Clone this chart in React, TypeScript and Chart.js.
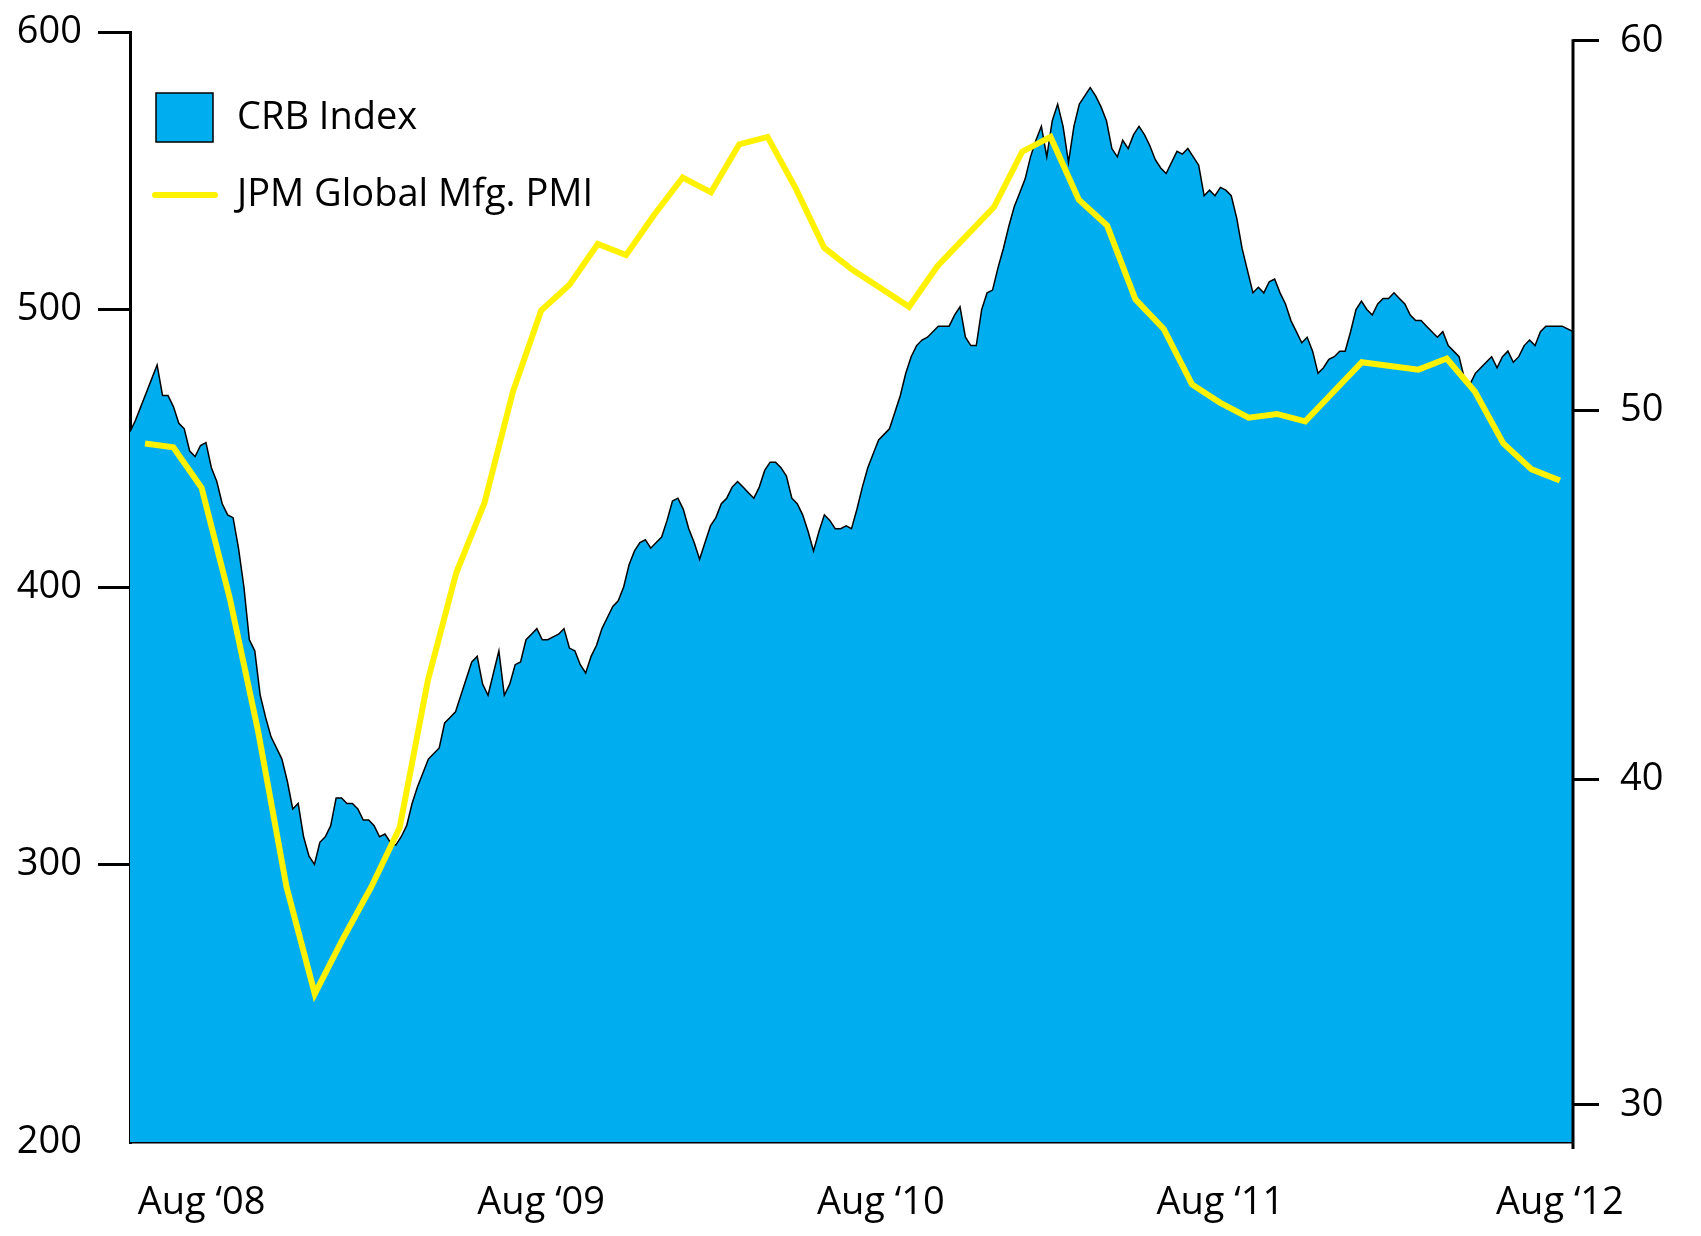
import React, { useEffect, useRef } from "react";
import { Chart, registerables } from "chart.js";

Chart.register(...registerables);

// ---- x axis (months counted from Aug 2008) ----
const X_TICK_MONTHS = [0, 12, 24, 36, 48];
const X_TICK_LABELS = ["Aug \u201808", "Aug \u201809", "Aug \u201810", "Aug \u201811", "Aug \u201812"];

// ---- left axis (CRB Index) ----
const LEFT_MIN = 200;
const LEFT_MAX = 600;
const LEFT_TICKS = [200, 300, 400, 500, 600];

// ---- right axis (PMI) ----
const RIGHT_MIN = 30.19;
const RIGHT_MAX = 60.24;
const RIGHT_TICK_VALUES = [31.2, 40, 50, 60];
const RIGHT_TICK_LABELS = ["30", "40", "50", "60"];

// ---- JPM Global Manufacturing PMI, monthly Jun 2008 .. Aug 2012 ----
const PMI_START_MONTH = -2;
const PMI_VALUES = [
  49.1, 49.0, 47.9, 44.9, 41.3, 37.1, 34.2, 35.7, 37.1, 38.7,
  42.7, 45.6, 47.5, 50.5, 52.7, 53.4, 54.5, 54.2, 55.3, 56.3,
  55.9, 57.2, 57.4, 56.0, 54.4, 53.8, 53.3, 52.8, 53.9, 54.7,
  55.5, 57.0, 57.4, 55.7, 55.0, 53.0, 52.2, 50.7, 50.2, 49.8,
  49.9, 49.7, 50.5, 51.3, 51.2, 51.1, 51.4, 50.5, 49.1, 48.4,
  48.1,
];

// ---- CRB Index, sampled about every 5.8 days from mid-May 2008 ----
const CRB_START_MONTH = -2.53;
const CRB_STEP_MONTHS = 0.1917;
const CRB_VALUES = [
  456, 460, 465, 470, 475, 480, 469, 469, 465, 459,
  457, 449, 447, 451, 452, 443, 438, 430, 426, 425,
  414, 400, 381, 377, 361, 353, 346, 342, 338, 330,
  320, 322, 310, 303, 300, 308, 310, 314, 324, 324,
  322, 322, 320, 316, 316, 314, 310, 311, 308, 307,
  310, 314, 322, 328, 333, 338, 340, 342, 351, 353,
  355, 361, 367, 373, 375, 365, 361, 369, 377, 361,
  365, 372, 373, 381, 383, 385, 381, 381, 382, 383,
  385, 378, 377, 372, 369, 375, 379, 385, 389, 393,
  395, 400, 408, 413, 416, 417, 414, 416, 418, 424,
  431, 432, 428, 421, 416, 410, 416, 422, 425, 430,
  432, 436, 438, 436, 434, 432, 436, 442, 445, 445,
  443, 440, 432, 430, 426, 420, 413, 420, 426, 424,
  421, 421, 422, 421, 428, 436, 443, 448, 453, 455,
  457, 463, 469, 477, 483, 487, 489, 490, 492, 494,
  494, 494, 498, 501, 490, 487, 487, 500, 506, 507,
  515, 522, 530, 537, 542, 547, 555, 561, 566, 555,
  568, 574, 566, 553, 566, 574, 577, 580, 577, 573,
  568, 558, 555, 561, 558, 563, 566, 563, 559, 554,
  551, 549, 553, 557, 556, 558, 555, 552, 541, 543,
  541, 544, 543, 541, 533, 522, 514, 506, 508, 506,
  510, 511, 506, 502, 496, 492, 488, 490, 485, 477,
  479, 482, 483, 485, 485, 492, 500, 503, 500, 498,
  502, 504, 504, 506, 504, 502, 498, 496, 496, 494,
  492, 490, 492, 487, 485, 483, 475, 473, 477, 479,
  481, 483, 479, 483, 485, 481, 483, 487, 489, 487,
  492, 494, 494, 494, 494, 493, 492,
];

const CRB_LABEL = "CRB Index";
const PMI_LABEL = "JPM Global Mfg. PMI";
const CRB_COLOR = "#00AEEF";
const PMI_COLOR = "#FFF200";
const FONT_FAMILY = "'Open Sans', 'Noto Sans', sans-serif";

const overlayPlugin = {
  id: "overlay",
  afterDraw(chart: any) {
    const { ctx, chartArea } = chart;
    const y1 = chart.scales.y1;
    ctx.save();
    // right axis spine
    ctx.strokeStyle = "#000";
    ctx.lineWidth = 3;
    ctx.beginPath();
    const topY = y1.getPixelForValue(60) - 1.5;
    ctx.moveTo(chartArea.right, topY);
    ctx.lineTo(chartArea.right, chartArea.bottom + 7);
    ctx.stroke();

    // legend
    const lx = chartArea.left + 26;
    const ly = chartArea.top + 61;
    ctx.fillStyle = CRB_COLOR;
    ctx.fillRect(lx, ly, 57, 49);
    ctx.strokeStyle = "#000";
    ctx.lineWidth = 1.5;
    ctx.strokeRect(lx, ly, 57, 49);

    ctx.strokeStyle = PMI_COLOR;
    ctx.lineWidth = 6;
    ctx.lineCap = "round";
    ctx.beginPath();
    ctx.moveTo(lx - 1, ly + 102);
    ctx.lineTo(lx + 59, ly + 102);
    ctx.stroke();

    ctx.fillStyle = "#000";
    ctx.font = `38px ${FONT_FAMILY}`;
    ctx.textAlign = "left";
    ctx.textBaseline = "middle";
    ctx.fillText(CRB_LABEL, lx + 81, ly + 25);
    ctx.fillText(PMI_LABEL, lx + 81, ly + 102);
    ctx.restore();
  },
};

export default function App() {
  const canvasRef = useRef<HTMLCanvasElement | null>(null);

  useEffect(() => {
    if (!canvasRef.current) return;
    const crbData = CRB_VALUES.map((v, i) => ({ x: CRB_START_MONTH + i * CRB_STEP_MONTHS, y: v }));
    const pmiData = PMI_VALUES.map((v, i) => ({ x: PMI_START_MONTH + i, y: v }));
    const xMax = CRB_START_MONTH + (CRB_VALUES.length - 1) * CRB_STEP_MONTHS;
    const font = { family: FONT_FAMILY, size: 38 };

    const chart = new Chart(canvasRef.current, {
      type: "line",
      data: {
        datasets: [
          {
            label: PMI_LABEL,
            data: pmiData,
            yAxisID: "y1",
            borderColor: PMI_COLOR,
            borderWidth: 6,
            pointRadius: 0,
            fill: false,
            tension: 0,
            borderJoinStyle: "miter",
            order: 0,
          },
          {
            label: CRB_LABEL,
            data: crbData,
            yAxisID: "y",
            borderColor: "#000",
            borderWidth: 1.5,
            backgroundColor: CRB_COLOR,
            pointRadius: 0,
            fill: "start",
            tension: 0,
            order: 1,
          },
        ],
      },
      options: {
        animation: false,
        responsive: true,
        maintainAspectRatio: false,
        layout: { padding: { top: 32, left: 0, right: 0, bottom: 0 } },
        plugins: { legend: { display: false }, tooltip: { enabled: false } },
        scales: {
          x: {
            type: "linear",
            min: CRB_START_MONTH,
            max: xMax,
            afterBuildTicks: (s: any) => {
              s.ticks = X_TICK_MONTHS.map((v) => ({ value: v }));
            },
            afterFit: (s: any) => {
              s.height = 94;
              s.paddingLeft = 0;
              s.paddingRight = 0;
            },
            ticks: {
              autoSkip: false,
              maxRotation: 0,
              color: "#000",
              font,
              padding: 38,
              callback: (v: any) => {
                const i = X_TICK_MONTHS.indexOf(Number(v));
                return i >= 0 ? X_TICK_LABELS[i] : "";
              },
            },
            grid: { display: true, drawOnChartArea: false, drawTicks: false, color: "rgba(0,0,0,0)" },
            border: { display: true, color: "#000", width: 2.5 },
          },
          y: {
            type: "linear",
            position: "left",
            min: LEFT_MIN,
            max: LEFT_MAX,
            afterBuildTicks: (s: any) => {
              s.ticks = LEFT_TICKS.map((v) => ({ value: v }));
            },
            afterFit: (s: any) => {
              s.width = 130;
              s.paddingTop = 0;
              s.paddingBottom = 0;
            },
            ticks: { color: "#000", font, padding: 16, callback: (v: any) => String(v) },
            grid: {
              drawOnChartArea: false,
              drawTicks: true,
              tickLength: 32,
              lineWidth: 3,
              color: (c: any) => (c.tick && c.tick.value === LEFT_MIN ? "rgba(0,0,0,0)" : "#000"),
            },
            border: { display: true, color: "#000", width: 3 },
          },
          y1: {
            type: "linear",
            position: "right",
            min: RIGHT_MIN,
            max: RIGHT_MAX,
            afterBuildTicks: (s: any) => {
              s.ticks = RIGHT_TICK_VALUES.map((v) => ({ value: v }));
            },
            afterFit: (s: any) => {
              s.width = 128;
              s.paddingTop = 0;
              s.paddingBottom = 0;
            },
            ticks: {
              color: "#000",
              font,
              padding: 21,
              callback: (v: any) => {
                const i = RIGHT_TICK_VALUES.indexOf(Number(v));
                return i >= 0 ? RIGHT_TICK_LABELS[i] : "";
              },
            },
            grid: { drawOnChartArea: false, drawTicks: true, tickLength: 26, lineWidth: 3, color: "#000" },
            border: { display: false },
          },
        },
      },
      plugins: [overlayPlugin],
    } as any);

    return () => chart.destroy();
  }, []);

  return (
    <div style={{ position: "absolute", left: 0, top: 0, width: 1701, height: 1236, background: "#fff" }}>
      <canvas ref={canvasRef} />
    </div>
  );
}
